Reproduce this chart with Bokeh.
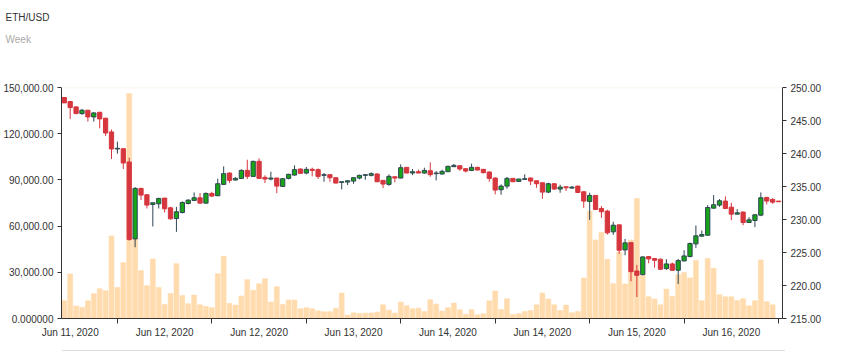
from bokeh.plotting import figure
from bokeh.models import (Range1d, LinearAxis, FixedTicker, NumeralTickFormatter,
                          Title, Span, ColumnDataSource, Div)
from bokeh.layouts import column
from bokeh.embed import file_html
from bokeh.resources import INLINE

title = "ETH/USD"
subtitle = "Week"

opens = [248.48, 247.87, 247.06, 246.05, 246.56, 245.54, 246.25, 245.34, 243.27, 240.68,
         240.73, 238.71, 227.06, 234.71, 233.75, 232.28, 232.38, 233.24, 231.77, 230.15,
         231.06, 232.43, 232.89, 233.29, 232.48, 233.95, 233.60, 235.32, 237.04, 235.98,
         236.23, 237.44, 236.53, 238.81, 236.38, 236.13, 236.28, 235.01, 236.23, 236.73,
         237.65, 237.04, 237.60, 237.55, 236.69, 236.79, 236.33, 235.62, 235.67, 235.82,
         236.28, 236.69, 236.69, 236.89, 235.93, 235.32, 236.48, 236.28, 237.90, 237.04,
         237.24, 237.04, 237.39, 236.94, 236.89, 237.24, 238.00, 238.15, 237.70, 237.44,
         237.90, 237.60, 237.19, 236.28, 234.51, 235.06, 236.23, 235.77, 236.08, 236.28,
         235.87, 235.57, 234.15, 235.42, 234.61, 234.96, 234.76, 235.06, 234.20, 232.74,
         233.65, 231.67, 231.27, 228.13, 229.19, 225.39, 226.51, 222.20, 221.65, 224.38,
         224.08, 223.98, 222.56, 223.27, 222.31, 223.72, 224.38, 226.31, 227.47, 227.62,
         231.72, 232.18, 232.79, 231.87, 230.81, 231.12, 229.55, 229.85, 230.66, 233.34,
         233.04, 232.79]
highs = [248.48, 247.97, 247.16, 246.76, 246.56, 246.25, 246.25, 245.44, 243.62, 241.80,
         240.73, 239.37, 234.91, 234.81, 233.80, 232.53, 233.29, 233.29, 231.92, 231.92,
         232.74, 233.04, 234.10, 234.00, 234.10, 234.20, 236.18, 238.05, 237.14, 236.43,
         237.60, 239.06, 238.91, 239.27, 236.69, 237.24, 236.33, 236.28, 236.94, 238.20,
         237.75, 237.95, 237.85, 237.75, 237.04, 236.84, 236.38, 235.72, 235.93, 236.38,
         236.79, 236.84, 237.14, 237.04, 235.93, 236.84, 236.48, 238.36, 237.90, 237.65,
         237.55, 237.85, 238.66, 237.34, 237.55, 238.15, 238.41, 238.15, 237.70, 238.46,
         238.00, 237.65, 237.29, 236.38, 235.32, 236.43, 236.28, 236.18, 236.84, 236.38,
         235.87, 235.57, 235.57, 235.47, 235.27, 234.96, 235.06, 235.11, 234.25, 234.05,
         233.65, 232.03, 231.47, 229.65, 229.19, 227.06, 226.51, 223.12, 224.43, 224.48,
         224.18, 224.08, 223.98, 223.47, 224.03, 225.34, 226.51, 229.09, 228.33, 232.18,
         233.70, 233.09, 233.49, 232.53, 231.57, 231.22, 230.36, 230.81, 234.10, 233.44,
         233.24, 232.79]
lows = [247.67, 245.24, 245.95, 245.85, 244.84, 244.84, 243.82, 242.66, 239.17, 239.98,
        237.65, 226.81, 225.80, 232.94, 231.67, 228.94, 231.67, 231.06, 230.00, 228.13,
        230.91, 232.28, 232.79, 232.43, 232.43, 233.39, 233.55, 235.22, 235.52, 235.93,
        236.13, 236.13, 236.43, 236.13, 235.52, 235.93, 234.00, 234.91, 236.08, 236.63,
        236.94, 236.84, 236.53, 236.13, 235.72, 235.72, 235.47, 234.56, 235.22, 235.42,
        236.08, 236.03, 236.53, 235.67, 234.76, 235.11, 235.62, 236.23, 236.99, 236.73,
        237.04, 236.94, 236.48, 235.93, 236.84, 237.19, 237.95, 237.39, 237.14, 237.34,
        237.49, 236.99, 235.72, 233.80, 233.75, 234.66, 235.72, 235.72, 235.98, 235.22,
        234.81, 233.14, 234.00, 234.51, 234.05, 234.31, 234.66, 234.00, 231.77, 229.95,
        231.42, 230.25, 227.72, 227.67, 224.79, 224.58, 220.63, 218.26, 221.55, 223.37,
        222.71, 222.36, 222.36, 222.20, 220.23, 223.67, 224.28, 225.70, 227.42, 227.57,
        231.67, 231.92, 231.57, 229.90, 230.76, 229.14, 229.49, 228.84, 230.51, 232.28,
        232.38, 232.69]
closes = [247.67, 246.96, 246.05, 246.56, 245.54, 246.15, 245.24, 243.11, 240.68, 240.79,
          238.56, 226.96, 234.71, 233.70, 232.18, 232.53, 233.19, 231.62, 230.10, 231.17,
          232.58, 232.94, 233.29, 232.48, 233.95, 233.55, 235.42, 236.94, 235.93, 236.23,
          237.44, 236.53, 238.81, 236.23, 236.13, 236.28, 235.06, 236.18, 236.84, 237.55,
          236.99, 237.60, 237.44, 236.53, 236.79, 236.33, 235.52, 235.72, 235.87, 236.33,
          236.69, 236.79, 236.94, 235.72, 235.37, 236.53, 236.28, 237.85, 237.04, 237.24,
          237.04, 237.44, 236.79, 237.04, 237.29, 238.05, 238.20, 237.65, 237.34, 237.90,
          237.49, 237.09, 236.23, 234.46, 235.06, 236.23, 235.72, 236.13, 236.18, 235.82,
          235.42, 234.15, 235.42, 234.61, 234.91, 234.81, 234.91, 234.10, 232.79, 233.65,
          231.52, 231.17, 227.98, 229.14, 225.34, 226.46, 222.10, 221.55, 224.33, 224.03,
          223.82, 222.46, 223.27, 222.31, 223.77, 224.48, 226.36, 227.52, 227.72, 231.82,
          232.23, 232.84, 231.67, 230.81, 231.01, 229.55, 229.95, 230.71, 233.29, 232.79,
          232.63, 232.69]
volumes = [11500, 28900, 8100, 7200, 11500, 16100, 19300, 18000, 53600, 20200,
           36300, 146100, 51900, 31100, 21300, 38600, 20200, 9100, 16300, 35600,
           15000, 9600, 15200, 8900, 7800, 7000, 29100, 40400, 9800, 8700,
           14600, 25200, 18300, 22600, 25800, 10700, 20600, 9100, 12000, 12000,
           6300, 7000, 6300, 5000, 4400, 4400, 6700, 16500, 2200, 3700,
           3300, 3500, 3500, 4100, 8900, 5400, 3500, 10700, 8300, 6300,
           6700, 4600, 12200, 9400, 4800, 7000, 10000, 5700, 2800, 5700,
           2400, 3100, 11500, 17800, 5900, 12800, 2600, 3100, 4600, 5200,
           8900, 16500, 12600, 8900, 5200, 8700, 3700, 4600, 26300, 69700,
           51000, 55800, 38400, 22600, 43000, 22400, 51000, 77900, 28000, 14100,
           12600, 8900, 19100, 14300, 28400, 29800, 26300, 37600, 11500, 38900,
           32600, 15400, 14100, 14100, 11700, 12800, 8300, 11500, 38000, 10900,
           8900, 0]

tick_labels = ["Jun 11, 2020", "Jun 12, 2020", "Jun 12, 2020", "Jun 13, 2020",
               "Jun 14, 2020", "Jun 14, 2020", "Jun 15, 2020", "Jun 16, 2020"]
label_index = [1, 17, 33, 49, 65, 81, 97, 113]
tick_index = [9, 25, 41, 57, 73, 89, 105, 121]
vol_ticks = [0, 30000, 60000, 90000, 120000, 150000]
price_ticks = [215, 220, 225, 230, 235, 240, 245, 250]

UP_FILL = "#17a617"
UP_LINE = "#2f4554"
DOWN = "#d6363d"
VOL = "#ffdbad"
AX = "#333333"
FONT = "Liberation Sans"

n = len(opens)
xs = list(range(n))
up = [c >= o for o, c in zip(opens, closes)]
src = ColumnDataSource(dict(
    x=xs, open=opens, close=closes, high=highs, low=lows, vol=volumes,
    top=[max(o, c) for o, c in zip(opens, closes)],
    bottom=[min(o, c) for o, c in zip(opens, closes)],
    fill=[UP_FILL if u else DOWN for u in up],
    line=[UP_LINE if u else DOWN for u in up],
))

# ---- header figure: only the two titles, empty frame below them ----
head = figure(width=865, height=80, x_range=Range1d(0, 1), y_range=Range1d(0, 1),
              output_backend="svg", toolbar_location=None, x_axis_type=None, y_axis_type=None,
              min_border=0)
head.outline_line_color = None
head.xgrid.visible = False
head.ygrid.visible = False
head.add_layout(Title(text=subtitle, text_font=FONT, text_font_size="10px",
                      text_font_style="normal", text_color="#aaaaaa", align="left",
                      offset=-56, standoff=0), "above")
head.add_layout(Title(text=title, text_font=FONT, text_font_size="10px",
                      text_font_style="normal", text_color="#333333", align="left",
                      offset=-56, standoff=18), "above")

# ---- main chart ----
p = figure(width=865, height=270, x_range=Range1d(-0.47, 121.67), y_range=Range1d(215, 250),
           y_axis_location="right", output_backend="svg", toolbar_location=None,
           min_border_left=61, min_border_right=83, min_border_top=7, min_border_bottom=32)
p.background_fill_color = "white"
p.border_fill_color = "white"
p.outline_line_color = None
p.xgrid.visible = False
p.ygrid.visible = False

p.extra_y_ranges = {"vol": Range1d(0, 150000)}

p.add_layout(Span(location=250, dimension="width", line_color="#fcefe3", line_width=1.5))

p.vbar(x="x", top="vol", bottom=0, width=0.82, source=src, y_range_name="vol",
       fill_color=VOL, line_color=VOL, line_alpha=0.6)
p.segment(x0="x", y0="high", x1="x", y1="low", source=src, line_color="line", line_width=1)
p.vbar(x="x", top="top", bottom="bottom", width=0.72, source=src,
       fill_color="fill", line_color="line", line_width=1)

ra = p.yaxis[0]
ra.ticker = FixedTicker(ticks=price_ticks)
ra.formatter = NumeralTickFormatter(format="0.00")

la = LinearAxis(y_range_name="vol", ticker=FixedTicker(ticks=vol_ticks),
                formatter=NumeralTickFormatter(format="0,0.00"),
                major_label_overrides={0: "0.000000"})
p.add_layout(la, "left")

xa = p.xaxis[0]
xa.ticker = FixedTicker(ticks=label_index, minor_ticks=tick_index)
xa.major_label_overrides = {k: v for k, v in zip(label_index, tick_labels)}
xa.major_tick_line_color = None
xa.major_tick_out = 5
xa.minor_tick_in = 0
xa.minor_tick_out = 5
xa.minor_tick_line_color = AX
xa.major_label_standoff = 3

for ax in (ra, la, xa):
    ax.axis_line_color = AX
    ax.major_label_text_font = FONT
    ax.major_label_text_font_size = "10px"
    ax.major_label_text_color = AX
for ax in (ra, la):
    ax.major_tick_line_color = AX
    ax.major_tick_in = 0
    ax.major_tick_out = 4
    ax.minor_tick_line_color = None
    ax.major_label_standoff = 4

slider_line = Div(text="", width=723, height=1, margin=(0, 0, 0, 62),
                  styles={"background-color": "#dddddd"})

layout = column(head, p, slider_line, spacing=0)
open("out.html", "w").write(file_html(layout, INLINE))
